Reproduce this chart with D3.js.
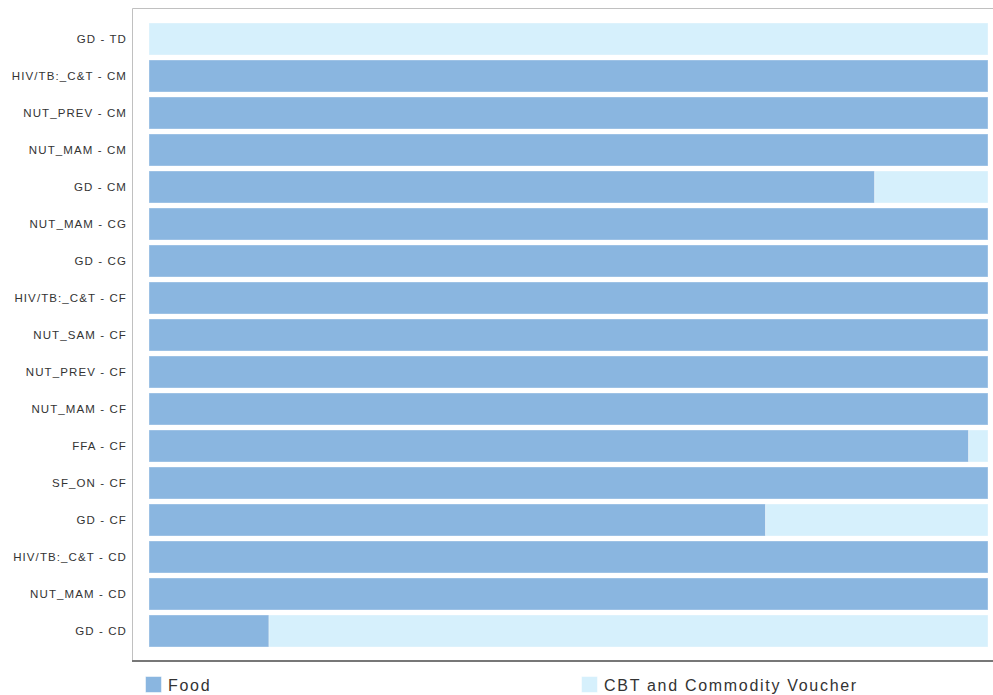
<!DOCTYPE html>
<html><head><meta charset="utf-8">
<script src="https://cdn.jsdelivr.net/npm/d3@7/dist/d3.min.js"></script>
<style>body{margin:0;background:#fff;}svg{display:block;font-family:"Liberation Sans",Arial,sans-serif;}</style>
</head><body><svg id="c" width="993" height="695"></svg>
<script>
const categories = ["GD - TD","HIV/TB:_C&T - CM","NUT_PREV - CM","NUT_MAM - CM","GD - CM","NUT_MAM - CG","GD - CG","HIV/TB:_C&T - CF","NUT_SAM - CF","NUT_PREV - CF","NUT_MAM - CF","FFA - CF","SF_ON - CF","GD - CF","HIV/TB:_C&T - CD","NUT_MAM - CD","GD - CD"];
const food = [0,100,100,100,86.5,100,100,100,100,100,100,97.7,100,73.5,100,100,14.3];
const cbt = food.map(v => 100 - v);
const seriesNames = ["Food","CBT and Commodity Voucher"];
const colors = ["#8ab6e0","#d6f0fc"];

const svg = d3.select("#c");
const x = d3.scaleLinear().domain([0,100]).range([149,988]);
const y = d3.scaleBand().domain(categories).range([20.5,649.5]).paddingInner(5/37).paddingOuter(2.5/37);

// frame
svg.append("line").attr("x1",132.5).attr("x2",993).attr("y1",8.5).attr("y2",8.5).attr("stroke","#c0c0c0");
svg.append("line").attr("x1",132.5).attr("x2",132.5).attr("y1",8.5).attr("y2",661).attr("stroke","#c0c0c0");

const rows = categories.map((c,i)=>({c, vals:[food[i], cbt[i]]}));
rows.forEach(r=>{
  let acc = 0;
  r.vals.forEach((v,j)=>{
    if (v>0) {
      svg.append("rect").attr("x",x(acc)).attr("y",y(r.c)).attr("width",x(acc+v)-x(acc)).attr("height",y.bandwidth())
        .attr("fill",colors[j]).attr("stroke","rgba(255,255,255,0.35)").attr("stroke-width",1);
    }
    acc += v;
  });
});

// axis labels
const yAxis = d3.axisLeft(y).tickSize(0).tickPadding(0);
const g = svg.append("g").attr("transform","translate(127,0)").call(yAxis);
g.select(".domain").remove();
g.selectAll("text").attr("font-size",11.5).attr("fill","#333").attr("font-family","Liberation Sans, Arial, sans-serif").attr("letter-spacing","1.1px");

// bottom axis line
svg.append("line").attr("x1",132).attr("x2",993).attr("y1",661).attr("y2",661).attr("stroke","#777").attr("stroke-width",2);

// legend
const lx = [145,581];
seriesNames.forEach((n,i)=>{
  svg.append("rect").attr("x",lx[i]+0.5).attr("y",676.5).attr("width",16).attr("height",16).attr("fill",colors[i]).attr("stroke","rgba(255,255,255,0.5)");
  svg.append("text").attr("x",lx[i]+23).attr("y",690.5).attr("font-size",16).attr("letter-spacing","1.7px").attr("fill","#333").text(n);
});
</script></body></html>
